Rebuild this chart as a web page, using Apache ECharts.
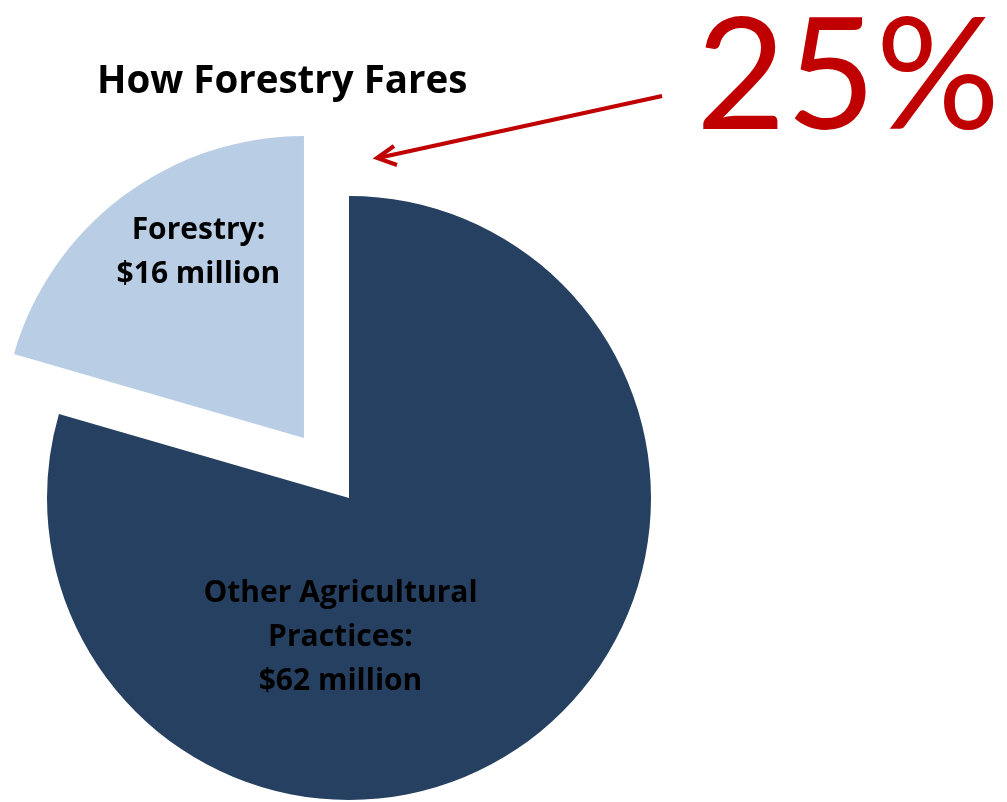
<!DOCTYPE html>
<html>
<head>
<meta charset="utf-8">
<script src="https://cdn.jsdelivr.net/npm/echarts@6/dist/echarts.min.js"></script>
<style>
html,body{margin:0;padding:0;background:#fff;}
#chart{width:1007px;height:802px;}
</style>
</head>
<body>
<div id="chart"></div>
<script>
const categories = ['Other Agricultural\nPractices:', 'Forestry:'];
const values = [62, 16];
const valueLabels = ['$62 million', '$16 million'];
const colors = ['#264061', '#B9CDE5'];
const titleText = 'How Forestry Fares';
const shareText = '25%';

const BOLD_FONT = '"Open Sans", Lato, sans-serif';
const BIG_FONT = 'Lato, "Noto Sans", sans-serif';
const chart = echarts.init(document.getElementById('chart'), null, {renderer: 'canvas'});
const labelShift = [[-101, 16], [-13, -62]];

chart.setOption({
  animation: false,
  title: {
    text: titleText,
    left: 92, top: 58,
    textStyle: {fontFamily: BOLD_FONT, fontSize: 38.5, fontWeight: 'bold', color: '#000'}
  },
  graphic: [
    {type: 'text', left: 696, top: 2,
     style: {text: shareText, fill: '#C00000', font: 'normal 155px ' + BIG_FONT}},
    {type: 'line', shape: {x1: 662, y1: 96, x2: 378, y2: 158},
     style: {stroke: '#C00000', lineWidth: 4}},
    {type: 'polyline', shape: {points: [[394, 146], [377, 158], [397, 165]]},
     style: {stroke: '#C00000', lineWidth: 4, fill: null}}
  ],
  series: [{
    type: 'pie',
    center: [349, 498],
    radius: 302,
    startAngle: 90,
    clockwise: true,
    selectedMode: 'multiple',
    selectedOffset: 75,
    avoidLabelOverlap: false,
    emphasis: {disabled: true},
    data: categories.map((c, i) => ({
      name: c, value: values[i], selected: i === 1,
      itemStyle: {color: colors[i]},
    })),
    label: {
      show: true, position: 'inside',
      formatter: p => p.name + '\n' + valueLabels[p.dataIndex],
      fontFamily: BOLD_FONT, fontSize: 30, fontWeight: 'bold', color: '#000',
      lineHeight: 44, align: 'center'
    },
    labelLine: {show: false},
    labelLayout: p => ({dx: labelShift[p.dataIndex][0], dy: labelShift[p.dataIndex][1]})
  }]
});
</script>
</body>
</html>
